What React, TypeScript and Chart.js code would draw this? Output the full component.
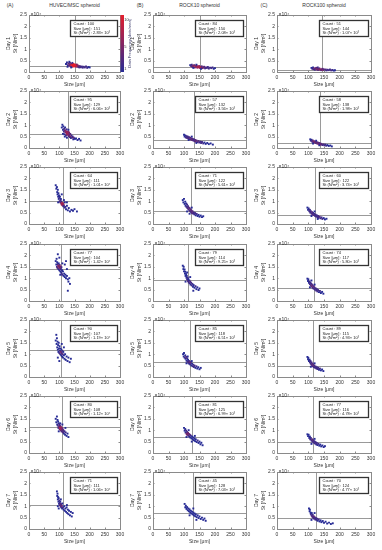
import React, { useEffect, useRef } from "react";
import { Chart, registerables } from "chart.js";
Chart.register(...registerables);

type Pt = [number, number];

// ---------- labels ----------
const panelLetters = ["(A)", "(B)", "(C)"];
const columnTitles = ["HUVEC/MSC spheroid", "ROCK10 spheroid", "ROCK100 spheroid"];
const dayLabels = ["Day 1", "Day 2", "Day 3", "Day 4", "Day 5", "Day 6", "Day 7"];
const colorbarTicks = [1, 5, 10];

// ---------- summary statistics (box + crosshair) ----------
const countsA = [100, 95, 64, 77, 90, 80, 71];
const sizesA = [151, 129, 111, 104, 107, 108, 111];
const stiffA = [2830, 6060, 10100, 14200, 11900, 11200, 10600];
const countsB = [84, 57, 71, 79, 85, 81, 45];
const sizesB = [150, 132, 122, 114, 118, 125, 128];
const stiffB = [2080, 3560, 5610, 9250, 6510, 6990, 7030];
const countsC = [51, 58, 60, 74, 89, 77, 70];
const sizesC = [144, 138, 122, 117, 115, 116, 124];
const stiffC = [1070, 1980, 3740, 5800, 4930, 4780, 4770];

// ---------- scatter points: [size µm, stiffness ×10^4 N/m²] ----------
const a1: Pt[] = [[122,0.35],[125,0.42],[128,0.3],[130,0.38],[132,0.28],[134,0.33],[135,0.4],[137,0.25],[138,0.31],[140,0.36],[141,0.22],[142,0.29],[144,0.33],[145,0.27],[146,0.3],[147,0.35],[148,0.24],[149,0.29],[150,0.32],[151,0.27],[152,0.3],[153,0.26],[154,0.31],[155,0.28],[156,0.23],[158,0.27],[160,0.3],[162,0.22],[164,0.26],[166,0.2],[168,0.25],[171,0.21],[174,0.24],[177,0.19],[180,0.23],[184,0.2],[188,0.24],[192,0.18],[196,0.22],[200,0.2],[133,0.45],[127,0.23],[143,0.4],[157,0.33],[139,0.2],[148,0.31],[151,0.3],[146,0.28]];
const a2: Pt[] = [[108,0.9],[110,1.02],[112,0.8],[113,0.95],[115,0.72],[116,0.85],[117,0.6],[118,0.78],[119,0.9],[120,0.68],[121,0.75],[122,0.55],[123,0.7],[124,0.82],[125,0.62],[126,0.66],[127,0.58],[128,0.72],[129,0.6],[130,0.64],[131,0.52],[132,0.68],[133,0.56],[134,0.6],[135,0.48],[136,0.62],[137,0.5],[138,0.44],[140,0.55],[142,0.46],[144,0.5],[146,0.38],[148,0.45],[151,0.4],[155,0.42],[160,0.35],[165,0.4],[170,0.33],[125,0.45],[118,0.5],[130,0.8],[112,0.62],[127,0.7],[129,0.68]];
const a3: Pt[] = [[88,1.7],[90,1.55],[92,1.62],[93,1.4],[94,1.3],[95,1.5],[96,1.2],[97,1.35],[98,1.1],[99,1.25],[100,1.15],[101,1.0],[102,1.2],[103,0.95],[104,1.05],[105,1.1],[106,0.9],[107,0.98],[108,0.85],[109,0.92],[110,0.88],[111,0.82],[112,0.9],[113,0.78],[114,0.86],[115,0.8],[117,0.72],[118,0.95],[120,0.75],[122,0.65],[125,0.8],[128,0.6],[131,0.7],[135,0.55],[140,0.62],[145,0.58],[150,0.65],[158,0.55],[108,1.3],[115,1.05],[125,0.95],[96,0.95],[109,0.86],[111,0.88]];
const a4: Pt[] = [[88,1.75],[90,1.6],[91,1.85],[92,1.5],[93,1.7],[94,1.45],[95,1.62],[96,1.55],[97,1.4],[98,1.65],[99,1.5],[100,1.35],[101,1.58],[102,1.45],[103,1.3],[104,1.52],[105,1.4],[106,1.25],[107,1.48],[108,1.2],[109,1.35],[110,1.15],[112,1.3],[114,1.1],[116,1.2],[118,1.05],[120,1.15],[122,1.0],[125,1.1],[128,0.95],[130,0.85],[133,1.0],[135,0.75],[128,0.45],[118,1.6],[122,1.75],[95,2.05],[100,1.9],[110,1.65],[125,1.4],[103,1.15],[99,1.52],[101,1.48]];
const a5: Pt[] = [[88,1.6],[90,1.85],[91,1.45],[92,1.7],[93,1.3],[94,1.55],[95,1.2],[96,1.4],[97,1.1],[98,1.5],[99,1.25],[100,1.05],[101,1.35],[102,1.15],[103,1.0],[104,1.25],[105,1.1],[106,0.95],[107,1.2],[108,1.05],[109,0.9],[110,1.15],[111,1.0],[112,0.85],[113,1.1],[115,0.95],[117,0.8],[119,1.0],[121,0.75],[124,0.9],[127,0.7],[130,0.85],[134,0.65],[138,0.8],[100,0.7],[95,0.85],[108,1.45],[115,1.3]];
const a6: Pt[] = [[88,1.5],[90,1.35],[92,1.6],[93,1.25],[94,1.45],[95,1.2],[96,1.38],[97,1.1],[98,1.3],[99,1.15],[100,1.25],[101,1.05],[102,1.2],[103,1.1],[104,1.0],[105,1.15],[106,1.05],[107,0.95],[108,1.1],[109,1.0],[110,1.08],[111,0.92],[112,1.02],[113,0.9],[114,0.98],[115,0.85],[117,0.95],[119,0.8],[121,0.9],[124,0.75],[127,0.85],[130,0.7],[103,1.3],[110,1.25],[98,0.95],[120,1.1],[104,1.12],[106,1.08]];
const a7: Pt[] = [[92,1.65],[93,1.45],[94,1.55],[95,1.3],[96,1.4],[97,1.2],[98,1.35],[99,1.1],[100,1.25],[101,1.15],[102,1.05],[103,1.2],[104,1.0],[105,1.1],[106,0.95],[107,1.05],[108,1.0],[109,0.9],[110,1.12],[112,0.95],[114,0.85],[116,1.0],[118,0.8],[120,0.9],[122,0.75],[124,0.95],[126,0.7],[128,0.85],[130,0.65],[132,0.8],[135,0.6],[138,0.75],[141,0.55],[144,0.7],[98,0.9],[105,1.3],[95,1.0],[125,1.05]];
const b1: Pt[] = [[120,0.3],[123,0.26],[125,0.32],[127,0.22],[129,0.28],[131,0.24],[133,0.3],[135,0.2],[137,0.26],[139,0.23],[141,0.28],[143,0.19],[145,0.24],[147,0.21],[149,0.26],[151,0.18],[153,0.22],[155,0.2],[157,0.25],[159,0.17],[161,0.21],[163,0.19],[165,0.23],[168,0.16],[171,0.2],[174,0.18],[177,0.22],[180,0.15],[184,0.19],[188,0.17],[192,0.2],[196,0.14],[200,0.17],[140,0.32],[155,0.14],[130,0.18],[146,0.22],[148,0.23]];
const b2: Pt[] = [[100,0.58],[102,0.5],[104,0.55],[106,0.46],[108,0.52],[110,0.44],[112,0.5],[114,0.42],[116,0.47],[118,0.39],[120,0.45],[122,0.37],[124,0.42],[126,0.35],[128,0.4],[130,0.33],[132,0.38],[134,0.3],[136,0.35],[138,0.28],[140,0.33],[143,0.26],[146,0.31],[149,0.24],[152,0.28],[155,0.22],[158,0.26],[162,0.2],[166,0.24],[170,0.18],[175,0.22],[180,0.17],[186,0.2],[193,0.15],[115,0.35],[125,0.5],[140,0.22]];
const b3: Pt[] = [[96,1.05],[98,0.95],[100,1.1],[102,0.88],[104,0.98],[105,0.8],[107,0.9],[108,0.75],[110,0.85],[111,0.7],[113,0.78],[114,0.65],[116,0.72],[117,0.6],[119,0.68],[120,0.56],[122,0.62],[123,0.52],[125,0.58],[126,0.48],[128,0.55],[130,0.45],[132,0.5],[134,0.42],[136,0.48],[138,0.38],[141,0.44],[144,0.35],[147,0.4],[150,0.32],[154,0.37],[158,0.3],[162,0.34],[110,0.55],[125,0.72],[118,0.45]];
const b4: Pt[] = [[96,1.55],[98,1.4],[99,1.5],[100,1.3],[102,1.38],[103,1.2],[104,1.28],[105,1.1],[107,1.18],[108,1.02],[109,1.1],[110,0.95],[112,1.02],[113,0.88],[114,0.96],[115,0.82],[117,0.9],[118,0.78],[120,0.85],[121,0.72],[123,0.8],[125,0.68],[127,0.75],[129,0.62],[131,0.7],[134,0.58],[137,0.65],[140,0.52],[143,0.6],[147,0.48],[150,0.55],[110,1.25],[120,1.05],[105,0.85],[130,0.45]];
const b5: Pt[] = [[97,1.0],[99,0.9],[100,1.05],[102,0.85],[104,0.95],[105,0.8],[107,0.88],[108,0.72],[110,0.82],[111,0.68],[113,0.76],[114,0.62],[116,0.7],[117,0.58],[119,0.66],[120,0.55],[122,0.62],[124,0.5],[126,0.58],[128,0.47],[130,0.54],[132,0.44],[134,0.5],[137,0.4],[140,0.47],[143,0.37],[146,0.43],[150,0.34],[154,0.4],[112,0.9],[125,0.7],[108,0.6]];
const b6: Pt[] = [[100,1.1],[102,0.98],[104,1.05],[105,0.9],[107,0.98],[108,0.85],[110,0.92],[111,0.8],[113,0.88],[114,0.76],[116,0.84],[117,0.72],[119,0.8],[120,0.68],[122,0.76],[124,0.64],[126,0.72],[128,0.6],[130,0.68],[132,0.56],[134,0.64],[136,0.52],[138,0.6],[141,0.48],[144,0.55],[147,0.44],[150,0.5],[153,0.38],[156,0.45],[160,0.34],[115,1.0],[125,0.5],[135,0.75],[108,0.7],[110,0.82],[112,0.84]];
const b7: Pt[] = [[102,1.1],[104,0.95],[106,1.02],[108,0.88],[110,0.96],[112,0.82],[114,0.9],[116,0.78],[118,0.86],[120,0.72],[122,0.8],[124,0.68],[126,0.76],[128,0.64],[130,0.72],[132,0.6],[134,0.68],[136,0.56],[138,0.64],[141,0.52],[144,0.6],[147,0.48],[150,0.55],[154,0.44],[158,0.5],[162,0.4],[166,0.46],[170,0.36],[118,0.6],[130,0.9],[140,0.4]];
const c1: Pt[] = [[110,0.18],[113,0.14],[115,0.2],[117,0.12],[119,0.16],[121,0.1],[123,0.15],[125,0.18],[127,0.11],[129,0.14],[131,0.09],[133,0.13],[135,0.16],[137,0.1],[139,0.12],[141,0.08],[143,0.11],[145,0.14],[147,0.09],[149,0.12],[152,0.08],[155,0.11],[158,0.07],[161,0.1],[165,0.08],[169,0.11],[173,0.07],[177,0.09],[181,0.06],[185,0.08],[130,0.2]];
const c2: Pt[] = [[106,0.38],[108,0.32],[110,0.36],[112,0.28],[114,0.33],[116,0.26],[118,0.3],[120,0.24],[122,0.28],[124,0.22],[126,0.26],[128,0.2],[130,0.24],[132,0.18],[134,0.22],[136,0.16],[138,0.2],[140,0.15],[142,0.18],[145,0.13],[148,0.16],[151,0.12],[154,0.15],[157,0.1],[161,0.13],[165,0.09],[170,0.11],[175,0.07],[115,0.2],[125,0.32],[135,0.12]];
const c3: Pt[] = [[97,0.72],[99,0.62],[101,0.68],[103,0.56],[105,0.62],[106,0.5],[108,0.56],[110,0.46],[112,0.52],[113,0.42],[115,0.48],[117,0.39],[119,0.44],[121,0.36],[123,0.41],[125,0.33],[127,0.38],[129,0.3],[131,0.35],[133,0.27],[136,0.32],[139,0.25],[142,0.29],[145,0.22],[149,0.26],[153,0.2],[158,0.23],[110,0.35],[120,0.55],[130,0.22]];
const c4: Pt[] = [[97,0.98],[99,0.88],[100,0.95],[102,0.8],[104,0.86],[105,0.74],[107,0.8],[108,0.68],[110,0.75],[111,0.63],[113,0.7],[114,0.58],[116,0.65],[117,0.54],[119,0.6],[121,0.5],[123,0.56],[125,0.46],[127,0.52],[129,0.42],[131,0.48],[134,0.39],[137,0.44],[140,0.35],[144,0.4],[148,0.32],[110,0.9],[120,0.72],[105,0.6]];
const c5: Pt[] = [[97,0.88],[99,0.78],[100,0.84],[102,0.7],[104,0.76],[105,0.64],[107,0.7],[108,0.58],[110,0.64],[111,0.53],[113,0.59],[114,0.48],[116,0.54],[117,0.44],[119,0.5],[121,0.41],[123,0.46],[125,0.38],[127,0.43],[129,0.35],[131,0.4],[134,0.32],[137,0.37],[140,0.29],[144,0.33],[148,0.26],[108,0.45],[120,0.6]];
const c6: Pt[] = [[97,0.82],[99,0.74],[101,0.8],[103,0.66],[105,0.72],[106,0.6],[108,0.66],[110,0.55],[112,0.6],[113,0.5],[115,0.56],[117,0.46],[119,0.52],[121,0.42],[123,0.48],[125,0.38],[127,0.44],[129,0.35],[132,0.4],[135,0.32],[138,0.37],[141,0.29],[145,0.33],[149,0.26],[153,0.3],[110,0.4],[120,0.62]];
const c7: Pt[] = [[102,0.9],[104,0.78],[105,0.85],[107,0.72],[108,0.66],[110,0.6],[111,0.7],[112,0.55],[114,0.62],[115,0.5],[117,0.56],[118,0.46],[120,0.52],[122,0.42],[124,0.48],[126,0.4],[128,0.45],[130,0.36],[133,0.42],[136,0.33],[139,0.38],[142,0.3],[146,0.35],[150,0.27],[155,0.32],[160,0.24],[166,0.28],[172,0.22],[178,0.25],[120,0.7],[110,0.4]];

const POINTS: Pt[][][] = [
  [a1, a2, a3, a4, a5, a6, a7],
  [b1, b2, b3, b4, b5, b6, b7],
  [c1, c2, c3, c4, c5, c6, c7],
];
const COUNTS = [countsA, countsB, countsC];
const SIZES = [sizesA, sizesB, sizesC];
const STIFF = [stiffA, stiffB, stiffC];

// ---------- layout / style ----------
const FONT = "'Liberation Sans', Arial, sans-serif";
const PLOT_LEFT = [29, 153, 277];
const PLOT_W = [91, 93, 94];
const RIGHT_PAD = [13, 8, 8];
const Y_AXIS_W = 29;
const X_AXIS_H = 17;
const TOP_PAD = 8;
const PLOT_H = 57;
const ROW_TOP0 = 14.7;
const ROW_STEP = 76.3;
const BLUE = [40, 44, 150];
const RED = [228, 30, 45];
const TEXT = "#333";

const SUP: Record<string, string> = { "0": "⁰", "1": "¹", "2": "²", "3": "³", "4": "⁴", "5": "⁵", "6": "⁶", "7": "⁷", "8": "⁸", "9": "⁹" };
function sci(v: number) {
  const e = Math.floor(Math.log10(v));
  const m = v / Math.pow(10, e);
  return m.toFixed(2) + "× 10" + String(e).split("").map((c) => SUP[c]).join("");
}
function mix(t: number) {
  const c = BLUE.map((b, i) => Math.round(b + (RED[i] - b) * t));
  return `rgb(${c[0]},${c[1]},${c[2]})`;
}
function densityColors(pts: Pt[]) {
  return pts.map(([x, y]) => {
    let n = 0;
    for (const [x2, y2] of pts) {
      const dx = (x - x2) / 300;
      const dy = (y - y2) / 2.5;
      if (dx * dx + dy * dy < 0.03 * 0.03) n++;
    }
    return mix(Math.min(1, Math.max(0, (n - 4) / 8)));
  });
}

function Panel({ col, row }: { col: number; row: number }) {
  const ref = useRef<HTMLCanvasElement>(null);
  const W = Y_AXIS_W + PLOT_W[col] + RIGHT_PAD[col];
  const H = TOP_PAD + PLOT_H + X_AXIS_H;
  const left = PLOT_LEFT[col] - Y_AXIS_W;
  const top = Math.round(ROW_TOP0 + ROW_STEP * row) - TOP_PAD;

  useEffect(() => {
    const pts = POINTS[col][row];
    const meanSize = SIZES[col][row];
    const meanStiff = STIFF[col][row];
    const count = COUNTS[col][row];
    const deco = {
      id: "deco",
      beforeDatasetsDraw(chart: any) {
        const { ctx, chartArea: ca, scales } = chart;
        const vx = Math.round(scales.x.getPixelForValue(meanSize)) + 0.5;
        const hy = Math.round(scales.y.getPixelForValue(meanStiff / 1e4)) + 0.5;
        ctx.save();
        ctx.strokeStyle = "#9a9a9a";
        ctx.lineWidth = 1;
        ctx.beginPath();
        ctx.moveTo(vx, ca.top);
        ctx.lineTo(vx, ca.bottom);
        ctx.moveTo(ca.left, hy);
        ctx.lineTo(ca.right, hy);
        ctx.stroke();
        ctx.restore();
      },
      afterDatasetsDraw(chart: any) {
        const { ctx, chartArea: ca, scales } = chart;
        const cw = ca.right - ca.left;
        ctx.save();
        // frame
        ctx.strokeStyle = "#8a8a8a";
        ctx.lineWidth = 1;
        ctx.strokeRect(Math.round(ca.left) + 0.5, Math.round(ca.top) + 0.5, Math.round(cw), Math.round(ca.bottom - ca.top));
        // inward ticks
        ctx.beginPath();
        scales.x.ticks.forEach((t: any) => {
          const px = Math.round(scales.x.getPixelForValue(t.value)) + 0.5;
          ctx.moveTo(px, ca.bottom);
          ctx.lineTo(px, ca.bottom - 1.5);
          ctx.moveTo(px, ca.top);
          ctx.lineTo(px, ca.top + 1.5);
        });
        scales.y.ticks.forEach((t: any) => {
          const py = Math.round(scales.y.getPixelForValue(t.value)) + 0.5;
          ctx.moveTo(ca.left, py);
          ctx.lineTo(ca.left + 1.5, py);
          ctx.moveTo(ca.right, py);
          ctx.lineTo(ca.right - 1.5, py);
        });
        ctx.stroke();
        // exponent label
        ctx.fillStyle = TEXT;
        ctx.font = `5px ${FONT}`;
        ctx.textAlign = "left";
        ctx.textBaseline = "middle";
        ctx.fillText("×10⁴", ca.left + 1.5, ca.top);
        // stats box
        const bx = Math.round(ca.left + 0.45 * cw) + 0.5;
        const by = Math.round(ca.top + 4.5) + 0.5;
        const bw = Math.round(0.52 * cw);
        const bh = 16;
        ctx.fillStyle = "#fff";
        ctx.fillRect(bx, by, bw, bh);
        ctx.strokeStyle = "#333";
        ctx.lineWidth = 1.3;
        ctx.strokeRect(bx, by, bw, bh);
        ctx.fillStyle = "#222";
        ctx.font = `4px ${FONT}`;
        ctx.fillText(`Count : ${count}`, bx + 3, by + 3.6);
        ctx.fillText(`Size [μm] : ${meanSize}`, bx + 3, by + 8.2);
        ctx.fillText(`St (N/m²) : ${sci(meanStiff)}`, bx + 3, by + 12.6);
        // colour bar (first panel only)
        if (col === 0 && row === 0) {
          const x0 = ca.right + 0.5;
          const w = 3.5;
          const g = ctx.createLinearGradient(0, ca.top, 0, ca.bottom);
          g.addColorStop(0, mix(1));
          g.addColorStop(0.5, mix(0.5));
          g.addColorStop(1, mix(0));
          ctx.fillStyle = g;
          ctx.fillRect(x0, ca.top, w, ca.bottom - ca.top);
          ctx.fillStyle = TEXT;
          ctx.font = `4px ${FONT}`;
          ctx.textAlign = "left";
          const h = ca.bottom - ca.top;
          colorbarTicks.forEach((v) => {
            const y = ca.bottom - 3.5 - ((v - 1) / 9) * (h - 8);
            ctx.fillText(String(v), x0 + w + 0.3, y);
          });
          ctx.save();
          ctx.translate(x0 + w + 6.3, (ca.top + ca.bottom) / 2);
          ctx.rotate(-Math.PI / 2);
          ctx.textAlign = "center";
          ctx.fillStyle = "#3a3a6a";
          ctx.fillText("Data Frequency [dots/area]", 0, 0);
          ctx.restore();
        }
        ctx.restore();
      },
    };

    const chart = new Chart(ref.current as HTMLCanvasElement, {
      type: "scatter",
      data: {
        datasets: [
          {
            data: pts.map(([x, y]) => ({ x, y })),
            pointStyle: "rect",
            pointRadius: 1.35,
            pointBorderWidth: 0,
            pointBackgroundColor: densityColors(pts),
          },
        ],
      },
      options: {
        animation: false,
        responsive: false,
        maintainAspectRatio: false,
        events: [],
        layout: { padding: { left: 0, top: TOP_PAD, right: RIGHT_PAD[col], bottom: 0 } },
        plugins: { legend: { display: false }, tooltip: { enabled: false } },
        scales: {
          x: {
            type: "linear",
            position: "bottom",
            min: 0,
            max: 300,
            afterFit: (s: any) => { s.height = X_AXIS_H; },
            grid: { display: false, drawTicks: false },
            border: { display: false },
            ticks: { stepSize: 50, padding: 3, color: TEXT, autoSkip: false, maxRotation: 0, font: { size: 5, family: FONT }, callback: (v: any) => String(v) },
            title: { display: true, text: "Size [μm]", color: TEXT, font: { size: 5, family: FONT, lineHeight: 1.2 }, padding: { top: 0, bottom: 1 } },
          },
          y: {
            type: "linear",
            min: 0,
            max: 2.5,
            afterFit: (s: any) => { s.width = Y_AXIS_W; },
            grid: { display: false, drawTicks: false },
            border: { display: false },
            ticks: { stepSize: 0.5, padding: 2, color: TEXT, autoSkip: false, font: { size: 5, family: FONT }, callback: (v: any) => String(v) },
            title: { display: true, text: [dayLabels[row], "St [N/m²]"], color: TEXT, font: { size: 5, family: FONT, lineHeight: 1.4 }, padding: { top: 5, bottom: 0 } },
          },
        },
      } as any,
      plugins: [deco],
    });
    return () => chart.destroy();
  }, [col, row]);

  return <canvas ref={ref} width={W} height={H} style={{ position: "absolute", left, top, width: W, height: H }} />;
}

const letterX = [10, 140, 264];

export default function App() {
  const panels: React.ReactNode[] = [];
  for (let c = 0; c < 3; c++) for (let r = 0; r < 7; r++) panels.push(<Panel key={`${c}-${r}`} col={c} row={r} />);
  return (
    <div style={{ position: "absolute", left: 0, top: 0, width: 382, height: 550, background: "#fff", overflow: "hidden", fontFamily: FONT }}>
      {panelLetters.map((l, i) => (
        <div key={l} style={{ position: "absolute", left: letterX[i] - 6, top: 1.5, width: 12, textAlign: "center", fontSize: 5, lineHeight: "6px", color: TEXT }}>{l}</div>
      ))}
      {columnTitles.map((t, i) => (
        <div key={t} style={{ position: "absolute", left: PLOT_LEFT[i], top: 1.5, width: PLOT_W[i], textAlign: "center", fontSize: 5, lineHeight: "6px", color: TEXT, whiteSpace: "nowrap" }}>{t}</div>
      ))}
      {panels}
    </div>
  );
}
